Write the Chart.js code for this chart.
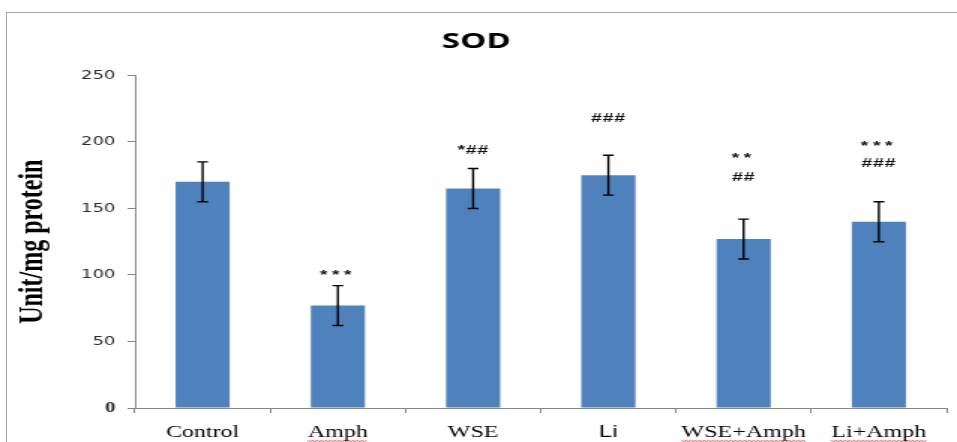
<!DOCTYPE html>
<html>
<head>
<meta charset="utf-8">
<script src="https://cdn.jsdelivr.net/npm/chart.js@4.4.1/dist/chart.umd.min.js"></script>
<style>
    html, body { margin: 0; padding: 0; background: #fff; overflow: hidden; }
    #frame { position: absolute; left: 6px; top: 12px; width: 1000px; height: 470px;
             border-top: 1px solid #a6a6a6; border-left: 1px solid #a6a6a6; }
    /* the source picture is stretched sideways, so the chart is too */
    #wrap { position: absolute; left: -1px; top: -1px; width: 644px; height: 440px;
            transform: scaleX(1.5); transform-origin: 0 0; }
</style>
</head>
<body>
<div id="frame">
    <div id="wrap"><canvas id="sodChart"></canvas></div>
</div>
<script>
// Data
const categories = ['Control', 'Amph', 'WSE', 'Li', 'WSE+Amph', 'Li+Amph'];
const sodValues = [170, 77, 165, 175, 127, 140];
const sodErrors = [15, 15, 15, 15, 15, 15];
const yTicks = [0, 50, 100, 150, 200, 250];
// significance marks above each bar, and the value (on the y axis) of each line's baseline
const sigMarks = [[], ['***'], ['*##'], ['###'], ['**', '##'], ['***', '###']];
const sigLevels = [[], [97], [191], [215], [185, 171], [194, 181]];

const BAR_BLUE = '#4F81BD';
const AXIS_GREY = '#868686';

// Error bars
const errorBars = {
    id: 'errorBars',
    afterDatasetsDraw(chart) {
        const ctx = chart.ctx;
        const y = chart.scales.y;
        const bars = chart.getDatasetMeta(0).data;
        ctx.save();
        ctx.strokeStyle = '#000';
        ctx.lineWidth = 1.4;
        bars.forEach((bar, i) => {
            const top = y.getPixelForValue(sodValues[i] + sodErrors[i]);
            const bot = y.getPixelForValue(sodValues[i] - sodErrors[i]);
            ctx.beginPath();
            ctx.moveTo(bar.x, top); ctx.lineTo(bar.x, bot);
            ctx.moveTo(bar.x - 3.6, top); ctx.lineTo(bar.x + 3.6, top);
            ctx.moveTo(bar.x - 3.6, bot); ctx.lineTo(bar.x + 3.6, bot);
            ctx.stroke();
        });
        ctx.restore();
    }
};

// Significance marks (* vs control, # vs Amph)
const sigLabels = {
    id: 'sigLabels',
    afterDatasetsDraw(chart) {
        const ctx = chart.ctx;
        const x = chart.scales.x;
        const y = chart.scales.y;
        ctx.save();
        ctx.fillStyle = '#111';
        ctx.font = 'bold 13px "Liberation Sans", Arial, sans-serif';
        ctx.textAlign = 'center';
        ctx.textBaseline = 'alphabetic';
        sigMarks.forEach((lines, i) => {
            lines.forEach((txt, j) => {
                ctx.letterSpacing = /^\*+$/.test(txt) ? '3px' : '0.5px';
                ctx.fillText(txt, x.getPixelForValue(i), y.getPixelForValue(sigLevels[i][j]));
            });
        });
        ctx.restore();
    }
};

// Red spell-check squiggles under the "Amph" labels (they are in the source image)
const squiggles = {
    id: 'squiggles',
    afterDraw(chart) {
        const ctx = chart.ctx;
        const x = chart.scales.x;
        const base = chart.chartArea.bottom + 33;
        ctx.save();
        ctx.strokeStyle = '#e03c3c';
        ctx.lineWidth = 0.8;
        categories.forEach((lab, i) => {
            if (!lab.includes('Amph')) return;
            ctx.font = '16px "Liberation Serif", "Times New Roman", serif';
            const w = ctx.measureText(lab).width;
            const cx = x.getPixelForValue(i);
            ctx.beginPath();
            for (let px = cx - w / 2, k = 0; px <= cx + w / 2; px += 1.5, k++) {
                const py = base + (k % 2 ? 1 : -1) * 0.9;
                if (k === 0) ctx.moveTo(px, py); else ctx.lineTo(px, py);
            }
            ctx.stroke();
        });
        ctx.restore();
    }
};

const ctx = document.getElementById('sodChart').getContext('2d');
new Chart(ctx, {
    type: 'bar',
    data: {
        labels: categories,
        datasets: [{
            label: 'SOD',
            data: sodValues,
            backgroundColor: BAR_BLUE,
            borderWidth: 0,
            barPercentage: 0.4,
            categoryPercentage: 1.0
        }]
    },
    options: {
        responsive: true,
        maintainAspectRatio: false,
        animation: false,
        layout: { padding: { top: 0, left: 0, right: 17, bottom: 0 } },
        plugins: {
            legend: { display: false },
            tooltip: { enabled: false },
            title: {
                display: true,
                text: 'SOD',
                color: '#000',
                font: { family: '"Open Sans", sans-serif', size: 22, weight: 'bold' },
                padding: { top: 17, bottom: 20 }
            }
        },
        scales: {
            x: {
                grid: { drawOnChartArea: false, drawTicks: true, tickLength: 5, color: AXIS_GREY, offset: true },
                border: { display: true, color: AXIS_GREY, width: 1 },
                ticks: {
                    color: '#000',
                    padding: 10,
                    maxRotation: 0,
                    font: (c) => (c.index === 3
                        ? { family: '"Liberation Sans", Arial, sans-serif', size: 16 }
                        : { family: '"Liberation Serif", "Times New Roman", serif', size: 16 })
                },
                afterFit: (scale) => { scale.height = 44; }
            },
            y: {
                min: 0,
                max: 250,
                afterBuildTicks: (scale) => { scale.ticks = yTicks.map(v => ({ value: v })); },
                grid: { drawOnChartArea: false, drawTicks: true, tickLength: 5, color: AXIS_GREY },
                border: { display: true, color: AXIS_GREY, width: 1 },
                ticks: {
                    color: '#2a2a2a',
                    padding: 8,
                    font: (c) => (c.tick && c.tick.value === 0
                        ? { family: '"Liberation Serif", serif', size: 14, weight: 'bold' }
                        : { family: '"DejaVu Sans", Verdana, sans-serif', size: 12 })
                },
                title: {
                    display: true,
                    text: 'Unit/mg protein',
                    color: '#000',
                    font: { family: '"Liberation Serif", "Times New Roman", serif', size: 24, weight: 'bold', lineHeight: 1 },
                    padding: { top: 6, bottom: 0 }
                },
                afterFit: (scale) => { scale.width = 86; }
            }
        }
    },
    plugins: [errorBars, sigLabels, squiggles]
});
</script>
</body>
</html>
